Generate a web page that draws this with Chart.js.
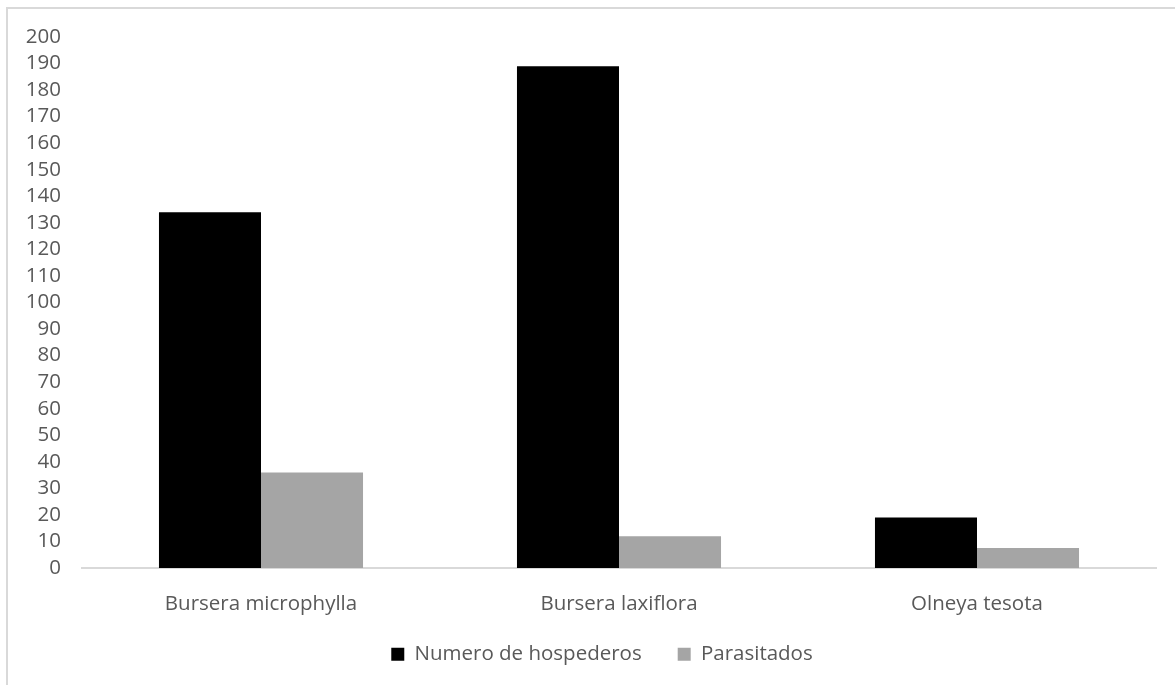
<!DOCTYPE html>
<html>
<head>
<meta charset="utf-8">
<script src="https://cdn.jsdelivr.net/npm/chart.js@4.4.0/dist/chart.umd.min.js"></script>
<style>
  html, body { margin: 0; padding: 0; background: #fff; overflow: hidden; }
  #frame {
    position: absolute; left: 6px; top: 7px;
    width: 2000px; height: 2000px;
    border: 2px solid #d9d9d9;
  }
  #wrap { position: absolute; left: 0; top: 0; width: 1175px; height: 685px; }
</style>
</head>
<body>
<div id="frame"></div>
<div id="wrap"><canvas id="bar-chart"></canvas></div>
<script>
// values
const especies = ["Bursera microphylla", "Bursera laxiflora", "Olneya tesota"];
const hospederos = [134, 189, 19];
const parasitados = [36, 12, 7.5];
const yMin = 0;
const yMax = 200;
const yStep = 10;

const textColor = "#595959";
const fontFam = "'Open Sans', 'Noto Sans', sans-serif";
const fontSize = 20.5;

// the legend in the original sits a bit right of the canvas centre
const legendNudge = {
  id: "legendNudge",
  afterLayout(chart) {
    const lg = chart.legend;
    if (!lg) return;
    lg.left += 24;
    lg.right += 24;
    lg.top -= 10;
    lg.bottom -= 10;
  },
};

const ctx = document.getElementById("bar-chart");
const barChart = new Chart(ctx, {
  type: "bar",
  data: {
    labels: especies,
    datasets: [
      {
        label: "Numero de hospederos",
        data: hospederos,
        backgroundColor: "#000000",
        categoryPercentage: 0.57,
        barPercentage: 1.0,
      },
      {
        label: "Parasitados",
        data: parasitados,
        backgroundColor: "#a5a5a5",
        categoryPercentage: 0.57,
        barPercentage: 1.0,
      },
    ],
  },
  options: {
    responsive: true,
    maintainAspectRatio: false,
    animation: false,
    layout: {
      padding: { left: 0, right: 19, top: 37, bottom: 8 },
    },
    plugins: {
      tooltip: { enabled: false },
      legend: {
        position: "bottom",
        maxHeight: 59,
        labels: {
          color: textColor,
          font: { family: fontFam, size: fontSize },
          boxWidth: 13,
          boxHeight: 13,
          padding: 36,
        },
      },
    },
    scales: {
      x: {
        grid: { display: false, drawTicks: false },
        border: { display: true, color: "#d9d9d9", width: 2 },
        ticks: {
          color: textColor,
          font: { family: fontFam, size: fontSize },
          padding: 24,
        },
        afterFit: function (scale) {
          scale.height = 50;
        },
      },
      y: {
        min: yMin,
        max: yMax,
        grid: { display: false, drawTicks: false },
        border: { display: false },
        ticks: {
          stepSize: yStep,
          autoSkip: false,
          color: textColor,
          font: { family: fontFam, size: fontSize },
          padding: 21,
        },
        afterFit: function (scale) {
          scale.width = 82;
        },
      },
    },
  },
  plugins: [legendNudge],
});
</script>
</body>
</html>
